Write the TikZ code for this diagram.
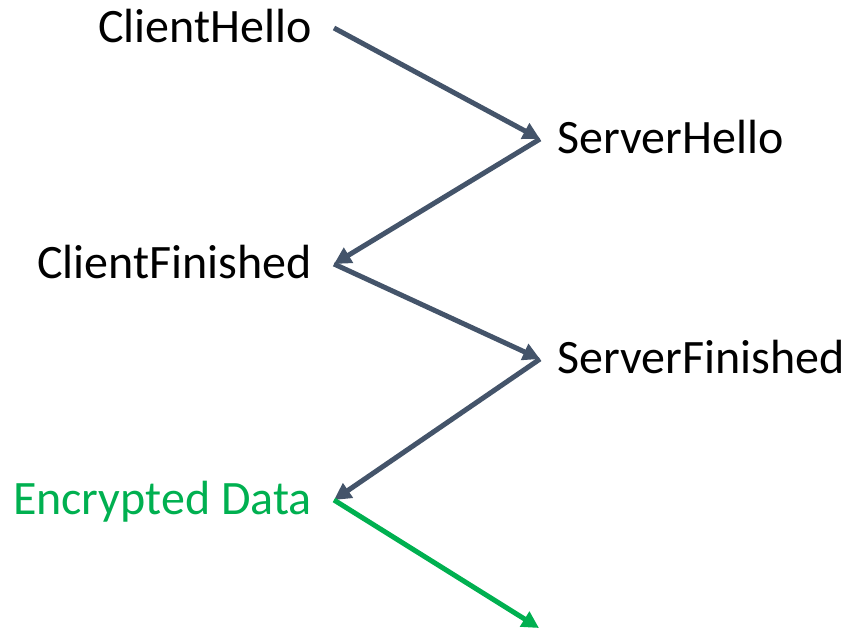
\documentclass[tikz,border=0pt]{standalone}
\usepackage{fontspec}
\setmainfont{Carlito}
\usepackage{xcolor}
\usepackage{tikz}
\usetikzlibrary{arrows.meta,calc}
\definecolor{slate}{HTML}{44546A}
\definecolor{okgreen}{HTML}{00B050}
\tikzset{
  msg/.style={inner sep=0pt,text height=28pt,text depth=0pt,font=\fontsize{48}{58}\selectfont},
  arr/.style={-{Triangle[length=17pt,width=17pt]},line width=5pt,slate},
}
\begin{document}
\begin{tikzpicture}[x=1pt,y=-1pt]
\useasboundingbox (0,0) rectangle (851,630);
\node[msg,anchor=east] (ch) at (312,28) {ClientHello};
\node[msg,anchor=west] (sh) at (557,139) {ServerHello};
\node[msg,anchor=east] (cf) at (312,264) {ClientFinished};
\node[msg,anchor=west] (sf) at (557,359) {ServerFinished};
\node[msg,anchor=east,text=okgreen] (ed) at (312,500) {Encrypted Data};
\coordinate (out) at (539,628);
\foreach \a/\b in {ch/sh,cf/sf}{\draw[arr] ([xshift=22pt]\a.east) -- ([xshift=-17pt]\b.west);}
\foreach \a/\b in {sh/cf,sf/ed}{\draw[arr] ([xshift=-17pt]\a.west) -- ([xshift=22pt]\b.east);}
\draw[arr,okgreen] ([xshift=22pt]ed.east) -- (out);
\end{tikzpicture}
\end{document}
